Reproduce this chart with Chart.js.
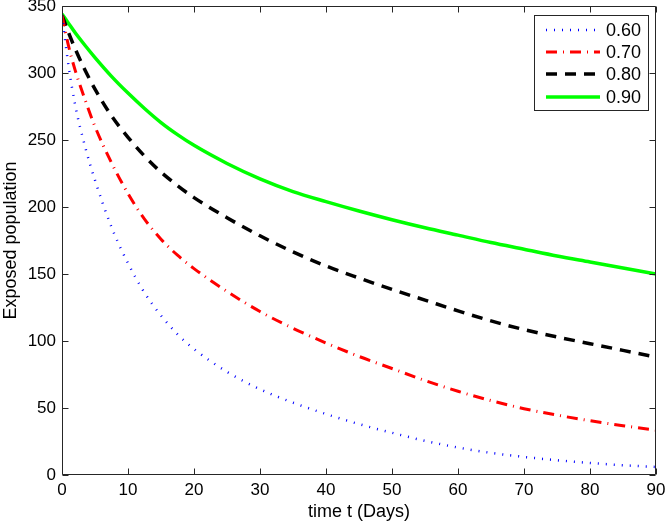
<!DOCTYPE html>
<html><head><meta charset="utf-8">
<script src="https://cdn.jsdelivr.net/npm/chart.js@4"></script>
<style>html,body{margin:0;padding:0;background:#fff}canvas{display:block}</style>
</head><body>
<canvas id="c" width="666" height="523"></canvas>
<script>
const days = [0,1,2,3.5,5,7.5,10,12.5,15,17.5,20,25,30,35,40,45,50,55,60,65,70,75,80,85,90];
const exposed060 = [343,305,276,245,220,185,158,136,119,105,94,77,64,54,45.5,38,31.5,25.5,20.5,16.5,13.5,11,9,7.3,6];
const exposed070 = [343,320,302,280,260,233,210,191,176,164,154,137,122,109.5,98.5,88.5,79.5,70.5,62.5,55.5,49.5,44.7,40.5,36.8,33.5];
const exposed080 = [343,330,318,302,288,268,252,238,226,216,207,192,178.5,166.5,156,147,138.5,130.5,122.5,115,108.5,103,98,93,88];
const exposed090 = [344,337,330,320.5,311.5,297.5,285,273.5,263,254,246,232.5,221,211.5,204,197,190.5,184.5,179,173.5,168.5,163.5,159,154.5,150];
const seriesLabels = ['0.60','0.70','0.80','0.90'];
const xTickValues = [0,10,20,30,40,50,60,70,80,90];
const yTickValues = [0,50,100,150,200,250,300,350];

const FONT = "'Liberation Sans', Arial, Helvetica, sans-serif";
Chart.defaults.font.family = FONT;
Chart.defaults.color = '#000';

const styles = [
  {color:'#0000ff', width:2.5, dash:[1,7]},
  {color:'#ff0000', width:3, dash:[11,6,1,6]},
  {color:'#000000', width:3.5, dash:[11,8]},
  {color:'#00ff00', width:3.5, dash:[]}
];
const seriesValues = [exposed060, exposed070, exposed080, exposed090];

const datasets = seriesValues.map((vals, i) => ({
  label: seriesLabels[i],
  data: days.map((d, j) => ({x: d, y: vals[j]})),
  borderColor: styles[i].color,
  borderWidth: styles[i].width,
  borderDash: styles[i].dash,
  borderCapStyle: 'butt',
  pointRadius: 0,
  fill: false,
  cubicInterpolationMode: 'monotone'
}));

const boxPlugin = {
  id: 'box',
  afterDatasetsDraw(chart) {
    const {ctx, chartArea: a, scales: {x, y}} = chart;
    ctx.save();
    ctx.strokeStyle = '#262626';
    ctx.lineWidth = 1;
    ctx.setLineDash([]);
    ctx.beginPath();
    const L = Math.round(a.left) + 0.5, R = Math.round(a.right) - 0.5;
    const T = Math.round(a.top) + 0.5, B = Math.round(a.bottom) - 0.5;
    ctx.rect(L, T, R - L, B - T);
    xTickValues.forEach(v => {
      const px = Math.round(x.getPixelForValue(v)) + 0.5;
      ctx.moveTo(px, B); ctx.lineTo(px, B - 6);
      ctx.moveTo(px, T); ctx.lineTo(px, T + 6);
    });
    yTickValues.forEach(v => {
      const py = Math.round(y.getPixelForValue(v)) + 0.5;
      ctx.moveTo(L, py); ctx.lineTo(L + 6, py);
      ctx.moveTo(R, py); ctx.lineTo(R - 6, py);
    });
    ctx.stroke();
    ctx.restore();
  }
};

const legendPlugin = {
  id: 'mlegend',
  afterDraw(chart) {
    const {ctx} = chart;
    const bx = 534.5, by = 15.5, bw = 114, bh = 95;
    ctx.save();
    ctx.fillStyle = '#fff';
    ctx.fillRect(bx, by, bw, bh);
    ctx.strokeStyle = '#262626';
    ctx.lineWidth = 1;
    ctx.setLineDash([]);
    ctx.strokeRect(bx, by, bw, bh);
    const rows = [30, 52, 74, 97];
    chart.data.datasets.forEach((ds, i) => {
      const yy = rows[i];
      ctx.beginPath();
      ctx.strokeStyle = ds.borderColor;
      ctx.lineWidth = ds.borderWidth;
      ctx.lineCap = 'butt';
      ctx.setLineDash(ds.borderDash);
      ctx.moveTo(546, yy);
      ctx.lineTo(600, yy);
      ctx.stroke();
      ctx.setLineDash([]);
      ctx.fillStyle = '#000';
      ctx.font = '18px ' + FONT;
      ctx.textBaseline = 'middle';
      ctx.textAlign = 'left';
      ctx.fillText(ds.label, 606, yy + 1);
    });
    ctx.restore();
  }
};

new Chart(document.getElementById('c'), {
  type: 'line',
  data: {datasets},
  options: {
    responsive: false,
    animation: false,
    devicePixelRatio: 1,
    layout: {padding: {left: 0, right: 10, top: 6, bottom: 0}},
    plugins: {legend: {display: false}, tooltip: {enabled: false}},
    scales: {
      x: {
        type: 'linear', min: 0, max: 90,
        afterBuildTicks(s) { s.ticks = xTickValues.map(v => ({value: v})); },
        ticks: {font: {size: 17}, padding: 5, maxRotation: 0, color: '#000'},
        grid: {display: false, drawTicks: false},
        border: {display: false},
        title: {display: true, text: 'time t (Days)', font: {size: 18}, padding: {top: 2, bottom: 0}, color: '#000'},
        afterFit(s) { s.height = 48; s.paddingLeft = 0; s.paddingRight = 0; }
      },
      y: {
        type: 'linear', min: 0, max: 350,
        afterBuildTicks(s) { s.ticks = yTickValues.map(v => ({value: v})); },
        ticks: {font: {size: 17}, padding: 6, color: '#000'},
        grid: {display: false, drawTicks: false},
        border: {display: false},
        title: {display: true, text: 'Exposed population', font: {size: 18}, padding: {top: 0, bottom: 0}, color: '#000'},
        afterFit(s) { s.width = 62; s.paddingTop = 0; s.paddingBottom = 0; }
      }
    }
  },
  plugins: [boxPlugin, legendPlugin]
});
</script>
</body></html>
